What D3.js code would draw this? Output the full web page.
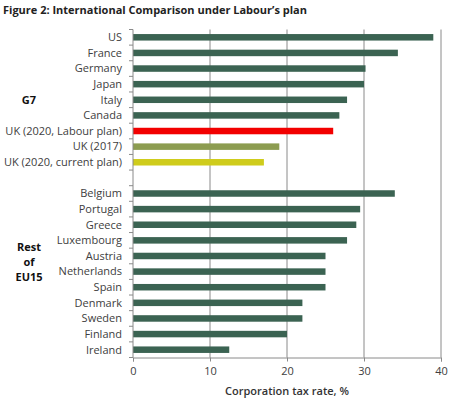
<!DOCTYPE html>
<html>
<head>
<meta charset="utf-8">
<script src="https://cdn.jsdelivr.net/npm/d3@7"></script>
<style>
  body { margin: 0; background: #fff; }
  svg { display: block; font-family: "Open Sans", sans-serif; }
</style>
</head>
<body>
<svg id="chart" width="457" height="399"></svg>
<script>
// countries, top to bottom; "" is the gap between the two groups
const countries = [
  "US", "France", "Germany", "Japan", "Italy", "Canada",
  "UK (2020, Labour plan)", "UK (2017)", "UK (2020, current plan)",
  "",
  "Belgium", "Portugal", "Greece", "Luxembourg", "Austria", "Netherlands",
  "Spain", "Denmark", "Sweden", "Finland", "Ireland"
];
const rates = [
  39, 34.4, 30.2, 30, 27.8, 26.8,
  26, 19, 17,
  null,
  34, 29.5, 29, 27.8, 25, 25,
  25, 22, 22, 20, 12.5
];
const barColors = {
  "UK (2020, Labour plan)": "#f20000",
  "UK (2017)": "#8c9c50",
  "UK (2020, current plan)": "#cfcc1c"
};
const xTicks = [0, 10, 20, 30, 40];

const margin = { top: 29.5, right: 16, bottom: 41.5, left: 133 };
const width = 457 - margin.left - margin.right;
const height = 399 - margin.top - margin.bottom;

const svg = d3.select("#chart");

// title
svg.append("text")
  .attr("x", 3)
  .attr("y", 14)
  .attr("font-size", "11px")
  .attr("font-weight", "bold")
  .attr("fill", "#222")
  .text("Figure 2: International Comparison under Labour\u2019s plan");

const g = svg.append("g")
  .attr("transform", "translate(" + margin.left + "," + margin.top + ")");

const x = d3.scaleLinear().domain([0, 40]).range([0, 441 - margin.left]);
const y = d3.scaleBand().domain(d3.range(countries.length)).range([0, height]);
const barH = 6.5;

// gridlines
g.selectAll(".grid")
  .data(xTicks.slice(1))
  .enter()
  .append("line")
  .attr("x1", d => x(d)).attr("x2", d => x(d))
  .attr("y1", 0).attr("y2", height)
  .attr("stroke", "#8a8a8a")
  .attr("stroke-width", 1);

// bars
g.selectAll(".bar")
  .data(rates.map((v, i) => ({ v: v, i: i })).filter(d => d.v !== null))
  .enter()
  .append("rect")
  .attr("x", 0)
  .attr("y", d => y(d.i) + (y.bandwidth() - barH) / 2)
  .attr("width", d => x(d.v))
  .attr("height", barH)
  .attr("fill", d => barColors[countries[d.i]] || "#3b6352");

// x axis
const xAxis = g.append("g")
  .attr("transform", `translate(0,${height})`)
  .call(d3.axisBottom(x).tickValues(xTicks).tickSize(4).tickPadding(6));
xAxis.select(".domain").attr("stroke", "#8a8a8a");
xAxis.selectAll(".tick line").attr("stroke", "#8a8a8a");
xAxis.selectAll("text").attr("font-size", "11px").attr("fill", "#404040")
  .attr("font-family", "Open Sans, sans-serif");

// y axis: line plus ticks at category boundaries
g.append("line")
  .attr("x1", 0).attr("x2", 0).attr("y1", 0).attr("y2", height)
  .attr("stroke", "#8a8a8a");
g.selectAll(".ytick")
  .data(d3.range(countries.length + 1))
  .enter()
  .append("line")
  .attr("x1", -4).attr("x2", 0)
  .attr("y1", d => d * y.step()).attr("y2", d => d * y.step())
  .attr("stroke", "#8a8a8a");

g.selectAll(".ylabel")
  .data(countries)
  .enter()
  .append("text")
  .attr("x", -11)
  .attr("y", (d, i) => y(i) + y.bandwidth() / 2)
  .attr("dy", "0.35em")
  .attr("text-anchor", "end")
  .attr("font-size", "11px")
  .attr("fill", "#404040")
  .text(d => d);

// group labels
const groupLabel = (lines, cy) => {
  const t = svg.append("text")
    .attr("text-anchor", "middle")
    .attr("font-size", "11px")
    .attr("font-weight", "bold")
    .attr("fill", "#111");
  lines.forEach((s, k) => {
    t.append("tspan")
      .attr("x", 29)
      .attr("y", cy + (k - (lines.length - 1) / 2) * 15)
      .attr("dy", "0.35em")
      .text(s);
  });
};
groupLabel(["G7"], margin.top + y(4) + y.bandwidth() / 2);
groupLabel(["Rest", "of", "EU15"], margin.top + y(14) + y.bandwidth() / 2 + 6);

// x axis title
svg.append("text")
  .attr("x", margin.left + x(20))
  .attr("y", 395)
  .attr("text-anchor", "middle")
  .attr("font-size", "11px")
  .attr("font-weight", "600")
  .attr("fill", "#333")
  .text("Corporation tax rate, %");
</script>
</body>
</html>
